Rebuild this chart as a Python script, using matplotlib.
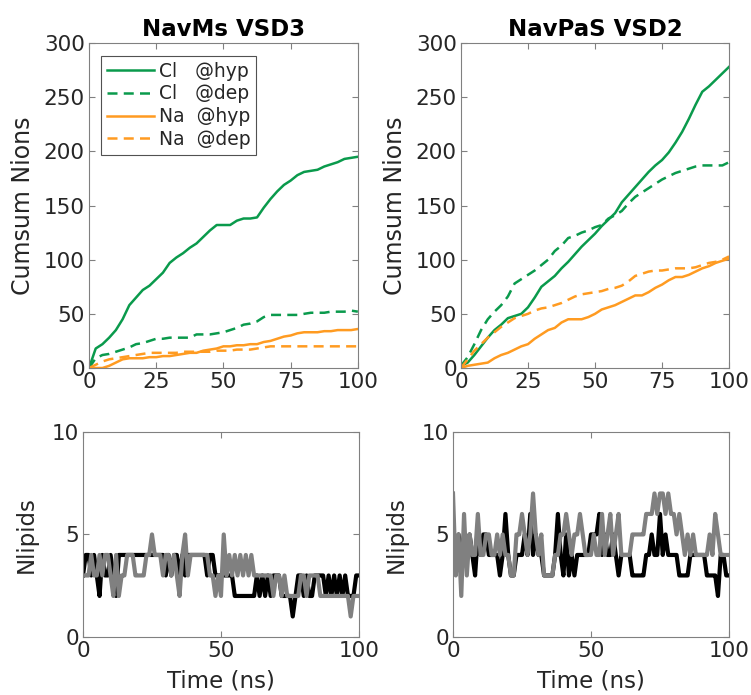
import numpy as np
import matplotlib
matplotlib.use("Agg")
import matplotlib.pyplot as plt

# cumulative ion counts, sampled every 2.5 ns
t_cum = np.arange(0, 100.1, 2.5)

ms_cl_hyp = [0, 18, 22, 28, 35, 45, 58, 65, 72, 76, 82, 88, 97, 102, 106, 111, 115, 121, 127, 132, 132,
             132, 136, 138, 138, 139, 148, 156, 163, 169, 173, 178, 181, 182, 183, 186, 188, 190, 193, 194, 195]
ms_cl_dep = [0, 9, 12, 13, 15, 17, 19, 22, 23, 25, 27, 27, 28, 28, 28, 28, 31, 31, 31, 32, 33,
             35, 37, 40, 41, 43, 47, 49, 49, 49, 49, 49, 50, 51, 51, 51, 52, 52, 52, 53, 52]
ms_na_hyp = [0, 0, 0, 2, 5, 8, 9, 9, 9, 10, 10, 11, 11, 12, 13, 14, 14, 16, 17, 18, 20,
             20, 21, 21, 22, 22, 24, 25, 27, 29, 30, 32, 33, 33, 33, 34, 34, 35, 35, 35, 36]
ms_na_dep = [0, 3, 6, 8, 9, 10, 11, 12, 13, 14, 14, 14, 14, 14, 15, 15, 15, 15, 15, 16, 16,
             16, 17, 17, 17, 18, 19, 20, 20, 20, 20, 20, 20, 20, 20, 20, 20, 20, 20, 20, 20]

pas_cl_hyp = [2, 5, 12, 20, 28, 35, 40, 46, 48, 50, 56, 65, 75, 80, 85, 92, 98, 105, 112, 118, 124,
              131, 137, 143, 153, 160, 167, 174, 181, 187, 192, 199, 208, 218, 230, 243, 255, 260, 266, 272, 278]
pas_cl_dep = [2, 10, 22, 35, 45, 52, 58, 66, 78, 82, 86, 90, 95, 100, 108, 113, 120, 122, 125, 127, 130,
              132, 138, 141, 145, 152, 158, 162, 166, 170, 174, 177, 180, 182, 184, 186, 187, 187, 187, 187, 190]
pas_na_hyp = [0, 2, 3, 4, 5, 9, 12, 14, 17, 20, 22, 27, 31, 35, 37, 42, 45, 45, 45, 47, 50,
              54, 56, 58, 61, 64, 67, 67, 70, 74, 77, 81, 84, 84, 86, 89, 92, 94, 97, 99, 101]
pas_na_dep = [0, 8, 16, 22, 28, 33, 38, 42, 46, 48, 50, 53, 55, 56, 58, 60, 63, 66, 68, 69, 70,
              71, 73, 74, 76, 80, 85, 87, 89, 90, 90, 91, 92, 92, 92, 93, 95, 97, 98, 100, 103]

# lipid counts, sampled every 1 ns
t_lip = np.arange(0, 101)

ms_lip_black = [3, 4, 4, 3, 4, 3, 2, 4, 3, 3, 4, 3, 2, 4, 4, 4, 4, 4, 4, 4, 4,
                4, 4, 4, 4, 4, 4, 4, 4, 4, 3, 4, 3, 4, 4, 3, 4, 3, 4, 4, 4,
                4, 4, 4, 4, 3, 4, 4, 3, 3, 3, 3, 3, 3, 3, 2, 2, 2, 2, 2, 2,
                2, 2, 3, 2, 3, 2, 3, 2, 3, 3, 3, 2, 2, 2, 2, 1, 2, 3, 3, 2,
                3, 2, 2, 3, 3, 3, 3, 2, 3, 2, 3, 2, 3, 2, 3, 2, 2, 2, 3, 3]
ms_lip_gray = [3, 3, 3, 4, 3, 3, 4, 3, 4, 4, 3, 2, 4, 2, 3, 3, 4, 4, 4, 3, 3,
               3, 3, 4, 4, 5, 4, 4, 4, 3, 4, 4, 3, 4, 3, 2, 4, 5, 3, 4, 4,
               4, 4, 4, 4, 4, 3, 3, 2, 3, 2, 5, 3, 4, 3, 4, 3, 4, 3, 4, 3,
               4, 3, 3, 3, 3, 3, 3, 3, 2, 3, 3, 2, 3, 2, 2, 2, 2, 2, 3, 3,
               2, 3, 3, 3, 3, 2, 2, 2, 2, 2, 2, 2, 2, 2, 2, 2, 1, 2, 2, 2]

pas_lip_black = [5, 4, 5, 4, 5, 4, 5, 4, 3, 5, 4, 5, 5, 4, 4, 4, 4, 3, 4, 6, 4,
                 3, 3, 4, 4, 4, 5, 4, 6, 4, 5, 4, 4, 3, 3, 3, 3, 4, 6, 4, 3,
                 5, 3, 4, 3, 4, 4, 4, 4, 4, 5, 5, 5, 6, 4, 5, 4, 4, 5, 4, 3,
                 4, 4, 4, 4, 3, 3, 3, 3, 3, 4, 4, 5, 4, 4, 6, 4, 5, 4, 4, 4,
                 4, 3, 3, 3, 3, 4, 4, 4, 4, 4, 4, 3, 3, 3, 3, 2, 4, 4, 3, 3]
pas_lip_gray = [7, 3, 5, 2, 6, 3, 5, 4, 4, 6, 4, 4, 5, 5, 4, 4, 5, 4, 5, 4, 4,
                3, 3, 5, 5, 6, 5, 4, 5, 7, 5, 4, 5, 3, 3, 3, 3, 4, 4, 5, 5,
                6, 5, 4, 5, 5, 6, 5, 4, 4, 4, 5, 4, 4, 6, 4, 5, 6, 4, 5, 6,
                4, 4, 4, 4, 5, 5, 5, 5, 5, 6, 6, 6, 7, 6, 7, 7, 6, 7, 6, 6,
                5, 6, 5, 4, 5, 4, 5, 4, 4, 4, 4, 4, 5, 4, 6, 5, 4, 4, 4, 4]

green = '#0a9a4c'
orange = '#ff9b21'
gray_line = '#808080'
txt = '#262626'
edge = '#808080'

plt.rcParams['font.family'] = 'DejaVu Sans'

fig = plt.figure(figsize=(7.51, 6.95), dpi=100)
ax_tl = fig.add_axes([0.1185, 0.4705, 0.358, 0.4676])
ax_tr = fig.add_axes([0.6138, 0.4705, 0.357, 0.4676])
ax_bl = fig.add_axes([0.1105, 0.0835, 0.3675, 0.295])
ax_br = fig.add_axes([0.6032, 0.0835, 0.3675, 0.295])


def style(ax):
    for s in ax.spines.values():
        s.set_color(edge)
        s.set_linewidth(0.8)
    ax.tick_params(direction='in', top=True, right=True, colors=edge,
                   labelcolor=txt, labelsize=15.5, length=4, pad=3)


for ax, title, series in [
    (ax_tl, 'NavMs VSD3', (ms_cl_hyp, ms_cl_dep, ms_na_hyp, ms_na_dep)),
    (ax_tr, 'NavPaS VSD2', (pas_cl_hyp, pas_cl_dep, pas_na_hyp, pas_na_dep)),
]:
    ax.plot(t_cum, series[0], color=green, lw=1.8, label='Cl   @hyp')
    ax.plot(t_cum, series[1], color=green, lw=1.8, ls=(0, (4, 2.5)), label='Cl   @dep')
    ax.plot(t_cum, series[2], color=orange, lw=1.8, label='Na  @hyp')
    ax.plot(t_cum, series[3], color=orange, lw=1.8, ls=(0, (4, 2.5)), label='Na  @dep')
    ax.set_xlim(0, 100)
    ax.set_ylim(0, 300)
    ax.set_xticks([0, 25, 50, 75, 100])
    ax.set_yticks([0, 50, 100, 150, 200, 250, 300])
    ax.set_ylabel('Cumsum Nions', fontsize=17, color=txt, labelpad=6)
    ax.set_title(title, fontsize=16.5, fontweight='bold', color='black', pad=5)
    style(ax)

leg = ax_tl.legend(loc='upper left', fontsize=13.5, handlelength=2.5, frameon=True,
                   fancybox=False, borderpad=0.3, labelspacing=0.2, borderaxespad=0,
                   handletextpad=0.3, bbox_to_anchor=(0.045, 0.96))
leg.get_frame().set_edgecolor('#262626')
leg.get_frame().set_linewidth(0.8)
for t in leg.get_texts():
    t.set_color(txt)

for ax, blk, gry in [(ax_bl, ms_lip_black, ms_lip_gray), (ax_br, pas_lip_black, pas_lip_gray)]:
    ax.plot(t_lip, blk, color='black', lw=3)
    ax.plot(t_lip, gry, color=gray_line, lw=3)
    ax.set_xlim(0, 100)
    ax.set_ylim(0, 10)
    ax.set_xticks([0, 50, 100])
    ax.set_yticks([0, 5, 10])
    ax.set_ylabel('Nlipids', fontsize=16.5, color=txt, labelpad=10)
    ax.set_xlabel('Time (ns)', fontsize=16.5, color=txt, labelpad=6)
    style(ax)

fig.savefig('out.png', dpi=100)
